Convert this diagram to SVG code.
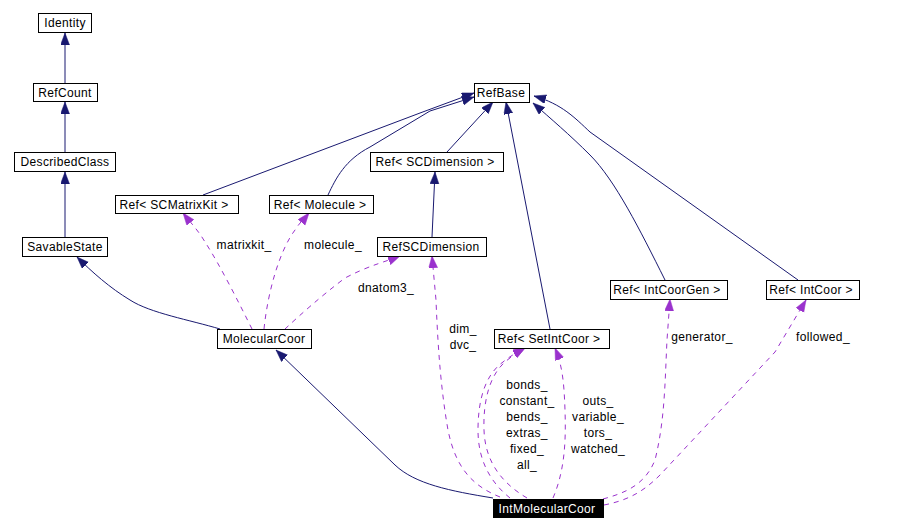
<svg xmlns="http://www.w3.org/2000/svg" width="908" height="531" viewBox="0 0 908 531">
<style>
.box{fill:#fff;stroke:#000;stroke-width:1}
.dark{fill:#000;stroke:#000;stroke-width:1}
text{font-family:"Liberation Sans",Arial,sans-serif;font-size:12px;fill:#000;letter-spacing:0.35px}
.nt{text-anchor:middle}
.wt{fill:#fff}
.lbl{text-anchor:middle}
.inh{fill:none;stroke:#191970;stroke-width:1;marker-end:url(#ab)}
.use{fill:none;stroke:#9a32cd;stroke-width:1;stroke-dasharray:5,5;marker-end:url(#ap)}
</style>
<defs>
<marker id="ab" markerUnits="userSpaceOnUse" markerWidth="13" markerHeight="10" refX="12" refY="4.5" orient="auto"><path d="M0,0 L12,4.5 L0,9 z" fill="#191970" stroke="#191970" stroke-width="0.5"/></marker>
<marker id="ap" markerUnits="userSpaceOnUse" markerWidth="13" markerHeight="10" refX="12" refY="4.5" orient="auto"><path d="M0,0 L12,4.5 L0,9 z" fill="#9a32cd" stroke="#9a32cd" stroke-width="0.5"/></marker>
</defs>
<rect width="908" height="531" fill="#fff"/>
<g id="edges">
<path class="inh" d="M65,83 L65,33"/>
<path class="inh" d="M65,152 L65,102"/>
<path class="inh" d="M65,237 L65,172"/>
<path class="inh" d="M220,329 C190,320 150,313 130,300 C110,288 92,272 77,257"/>
<path class="inh" d="M493,498 C450,491 415,484 395,465 L276,350"/>
<path class="inh" d="M203,195 L420,113 L474,93"/>
<path class="inh" d="M328,195 C336,178 345,160 370,147 L430,111 L474,97"/>
<path class="inh" d="M447,152 L493,102"/>
<path class="inh" d="M550,329 L506,102"/>
<path class="inh" d="M665,280 C640,230 615,180 590,155 C570,135 550,118 533,103"/>
<path class="inh" d="M798,280 L590,132 C575,118 562,104 534,96"/>
<path class="inh" d="M432,237 L435,172"/>
<path class="use" d="M252,329 C240,305 220,265 205,242 C198,230 190,222 183,213"/>
<path class="use" d="M264,329 C268,290 280,250 295,230 C300,222 305,218 309,213"/>
<path class="use" d="M285,329 C300,315 320,297 345,278 C370,265 385,262 400,256"/>
<path class="use" d="M500,497 C470,485 455,465 448,430 C441,390 438,350 436,300 L432,256"/>
<path class="use" d="M510,498 C490,482 478,460 478,430 C478,400 485,375 503,362 C510,356 518,352 525,348"/>
<path class="use" d="M527,498 C500,482 485,460 484,430 C483,400 490,375 505,362 C512,356 518,352 525,348"/>
<path class="use" d="M553,498 C565,470 566,440 565,410 C564,380 562,365 555,348"/>
<path class="use" d="M603,499 C625,493 645,485 655,460 C665,420 665,380 667,340 L670,299"/>
<path class="use" d="M604,505 C630,500 645,490 660,475 L775,352 L806,300"/>
<text class="lbl" x="244" y="249">matrixkit_</text>
<text class="lbl" x="333" y="249">molecule_</text>
<text class="lbl" x="386" y="292">dnatom3_</text>
<text class="lbl" x="463" y="333">dim_</text>
<text class="lbl" x="463" y="349">dvc_</text>
<text class="lbl" x="527" y="389">bonds_</text>
<text class="lbl" x="527" y="405">constant_</text>
<text class="lbl" x="527" y="421">bends_</text>
<text class="lbl" x="527" y="437">extras_</text>
<text class="lbl" x="527" y="453">fixed_</text>
<text class="lbl" x="527" y="469">all_</text>
<text class="lbl" x="598" y="405">outs_</text>
<text class="lbl" x="598" y="421">variable_</text>
<text class="lbl" x="598" y="437">tors_</text>
<text class="lbl" x="598" y="453">watched_</text>
<text class="lbl" x="702" y="341">generator_</text>
<text class="lbl" x="823" y="341">followed_</text>
</g>
<g id="Identity"><rect class="box" x="38.5" y="13.5" width="53" height="19"/><text class="nt" x="65" y="27">Identity</text></g>
<g id="RefCount"><rect class="box" x="33.5" y="83.5" width="64" height="18"/><text class="nt" x="65" y="97">RefCount</text></g>
<g id="DescribedClass"><rect class="box" x="14.5" y="152.5" width="101" height="19"/><text class="nt" x="65" y="166">DescribedClass</text></g>
<g id="SavableState"><rect class="box" x="22.5" y="237.5" width="85" height="19"/><text class="nt" x="65" y="251">SavableState</text></g>
<g id="RefSCMatrixKit"><rect class="box" x="115.5" y="195.5" width="123" height="18"/><text class="nt" x="174" y="209">Ref&lt; SCMatrixKit &gt;</text></g>
<g id="RefMolecule"><rect class="box" x="269.5" y="195.5" width="104" height="18"/><text class="nt" x="320" y="209">Ref&lt; Molecule &gt;</text></g>
<g id="RefBase"><rect class="box" x="474.5" y="83.5" width="55" height="19"/><text class="nt" x="501" y="97">RefBase</text></g>
<g id="RefSCDimensionT"><rect class="box" x="370.5" y="152.5" width="133" height="19"/><text class="nt" x="435" y="166">Ref&lt; SCDimension &gt;</text></g>
<g id="RefSCDimension"><rect class="box" x="377.5" y="237.5" width="109" height="19"/><text class="nt" x="431" y="251">RefSCDimension</text></g>
<g id="RefIntCoorGen"><rect class="box" x="610.5" y="280.5" width="117" height="19"/><text class="nt" x="667" y="294">Ref&lt; IntCoorGen &gt;</text></g>
<g id="RefIntCoor"><rect class="box" x="766.5" y="280.5" width="93" height="19"/><text class="nt" x="811" y="294">Ref&lt; IntCoor &gt;</text></g>
<g id="MolecularCoor"><rect class="box" x="217.5" y="329.5" width="94" height="19"/><text class="nt" x="264" y="343">MolecularCoor</text></g>
<g id="RefSetIntCoor"><rect class="box" x="494.5" y="329.5" width="115" height="19"/><text class="nt" x="549" y="343">Ref&lt; SetIntCoor &gt;</text></g>
<g id="IntMolecularCoor"><rect class="dark" x="493.5" y="499.5" width="110" height="18"/><text class="nt wt" x="547" y="513">IntMolecularCoor</text></g>
</svg>
